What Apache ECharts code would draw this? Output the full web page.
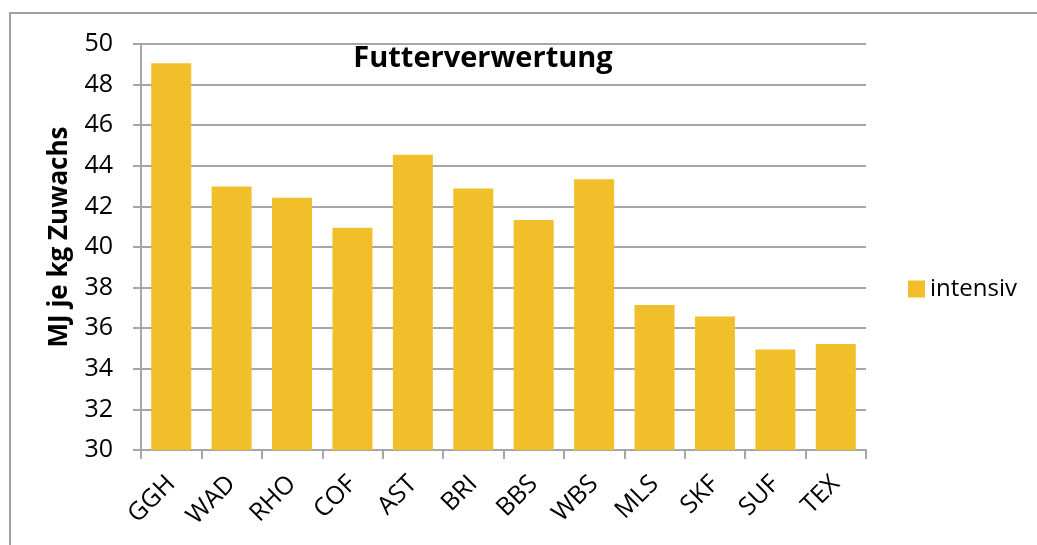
<!DOCTYPE html>
<html>
<head>
<meta charset="utf-8">
<title>Futterverwertung</title>
<script src="https://cdn.jsdelivr.net/npm/echarts@6/dist/echarts.min.js"></script>
<style>
    html, body { margin: 0; padding: 0; background: #fff; }
    #chart { width: 1037px; height: 545px; }
</style>
</head>
<body>
<div id="chart"></div>
<script>
// Rassen / Herkunft
const categories = ['GGH', 'WAD', 'RHO', 'COF', 'AST', 'BRI', 'BBS', 'WBS', 'MLS', 'SKF', 'SUF', 'TEX']
// MJ je kg Zuwachs, Fütterung intensiv
const intensiv = [49.05, 42.98, 42.43, 40.95, 44.55, 42.88, 41.33, 43.34, 37.14, 36.58, 34.95, 35.22]
const yTicks = [30, 50, 2]   // min, max, step

const chartEl = document.getElementById('chart')
const chart = echarts.init(chartEl)
const font = '"Open Sans", "Noto Sans", sans-serif'
const gridColor = '#a6a6a6'

const option = {
    animation: false,
    backgroundColor: '#fff',
    textStyle: { fontFamily: font },
    title: {
        text: 'Futterverwertung',
        left: 478,
        top: 39,
        textAlign: 'center',
        textStyle: { fontFamily: font, fontSize: 29, fontWeight: 'bold', color: '#000' }
    },
    graphic: [{
        type: 'rect',
        shape: { x: 10, y: 13, width: 1040, height: 545 },
        style: { fill: 'none', stroke: '#a0a0a0', lineWidth: 2 },
        silent: true
    }],
    legend: {
        orient: 'vertical',
        left: 903,
        top: 272,
        itemWidth: 17,
        itemHeight: 17,
        itemGap: 6,
        icon: 'rect',
        textStyle: { fontFamily: font, fontSize: 24, color: '#000' },
        data: ['intensiv']
    },
    grid: { left: 141, right: 171, top: 44, bottom: 95, containLabel: false },
    xAxis: {
        type: 'category',
        data: categories,
        axisLine: { lineStyle: { color: gridColor, width: 2 } },
        axisTick: { show: true, length: 9, alignWithLabel: false, lineStyle: { color: gridColor, width: 2 } },
        axisLabel: {
            rotate: 45,
            interval: 0,
            margin: 30,
            fontFamily: font,
            fontSize: 25,
            color: '#000'
        }
    },
    yAxis: {
        type: 'value',
        min: yTicks[0],
        max: yTicks[1],
        interval: yTicks[2],
        name: 'MJ je kg Zuwachs',
        nameLocation: 'middle',
        nameGap: 68,
        nameTextStyle: { fontFamily: font, fontSize: 26, fontWeight: 'bold', color: '#000', padding: [0, 0, 0, 20] },
        axisLine: { show: true, lineStyle: { color: gridColor, width: 2 } },
        axisTick: { show: true, length: 8, lineStyle: { color: gridColor, width: 2 } },
        axisLabel: { margin: 28, fontFamily: font, fontSize: 25, color: '#000' },
        splitLine: { show: true, lineStyle: { color: gridColor, width: 2 } }
    },
    series: [{
        name: 'intensiv',
        type: 'bar',
        data: intensiv,
        barWidth: 40,
        itemStyle: { color: '#F0BF2A' }
    }]
}
chart.setOption(option)
</script>
</body>
</html>
